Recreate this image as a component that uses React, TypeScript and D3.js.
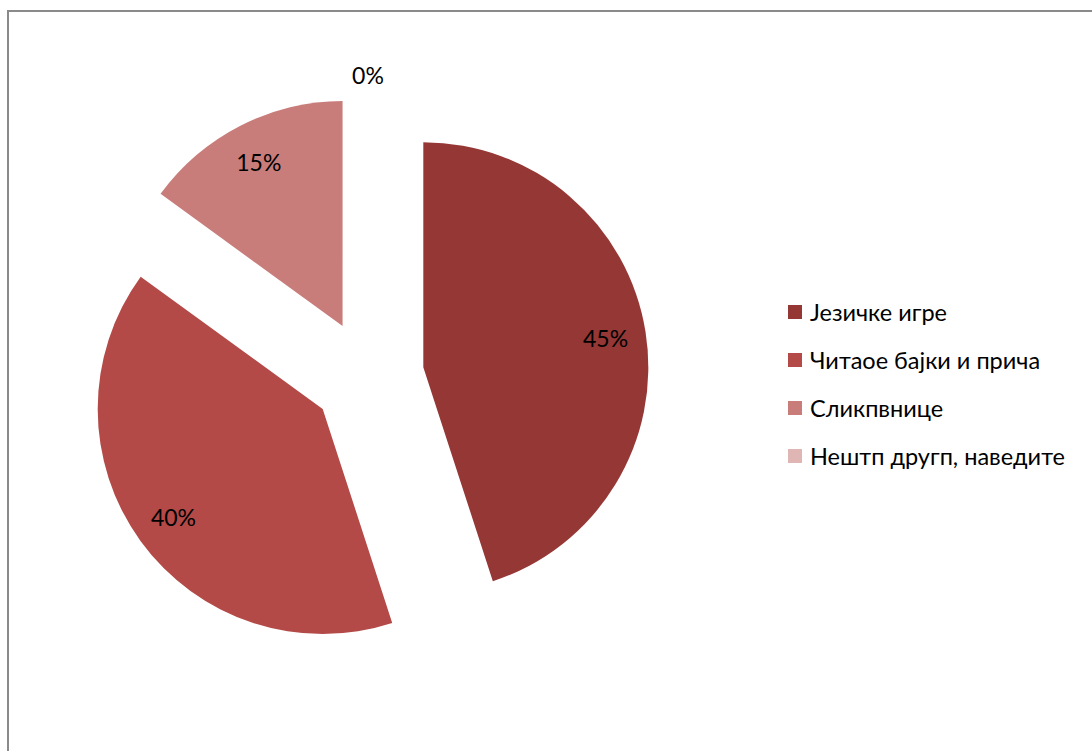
import React from "react";
import * as d3 from "d3";

const categories = ["Језичке игре", "Читаое бајки и прича", "Сликпвнице", "Нештп другп, наведите"];
const values = [45, 40, 15, 0];
const colors = ["#953735", "#B34A47", "#C87D7B", "#E0B6B5"];

const W = 1092;
const H = 751;
const FONT = "Lato, 'Noto Sans', 'Open Sans', sans-serif";

export default function App() {
  const cx = 368, cy = 376, r = 225, explode = 56;
  const pie = d3.pie<number>().value((d) => d).sort(null)(values);
  const arc = d3.arc<d3.PieArcDatum<number>>().innerRadius(0).outerRadius(r);
  const total = d3.sum(values);

  return (
    <svg width={W} height={H} style={{ position: "absolute", left: 0, top: 0 }}>
      <rect x={0} y={0} width={W} height={H} fill="#fff" />
      <line x1={8} y1={11} x2={W} y2={11} stroke="#8a8a8a" strokeWidth={2} />
      <line x1={8} y1={10} x2={8} y2={H} stroke="#8a8a8a" strokeWidth={2} />
      <g transform={`translate(${cx},${cy})`}>
        {pie.map((p, i) => {
          const mid = (p.startAngle + p.endAngle) / 2;
          const dx = Math.sin(mid) * explode;
          const dy = -Math.cos(mid) * explode;
          const lr = p.value === 0 ? r + 20 : r * 0.82;
          const lx = dx + Math.sin(mid) * lr;
          const ly = dy - Math.cos(mid) * lr;
          return (
            <g key={i}>
              {p.value > 0 && (
                <path d={arc(p) || ""} transform={`translate(${dx},${dy})`} fill={colors[i]} />
              )}
              <text
                x={lx}
                y={ly}
                textAnchor="middle"
                dominantBaseline="central"
                fontFamily={FONT}
                fontSize={23}
                fill="#000"
              >
                {Math.round((p.value / total) * 100)}%
              </text>
            </g>
          );
        })}
      </g>
      <g transform="translate(788,312)">
        {categories.map((c, i) => (
          <g key={c} transform={`translate(0,${i * 48})`}>
            <rect x={0} y={-7} width={14} height={14} fill={colors[i]} />
            <text x={22} y={0} dominantBaseline="central" fontFamily={FONT} fontSize={23.5} fill="#000">
              {c}
            </text>
          </g>
        ))}
      </g>
    </svg>
  );
}
